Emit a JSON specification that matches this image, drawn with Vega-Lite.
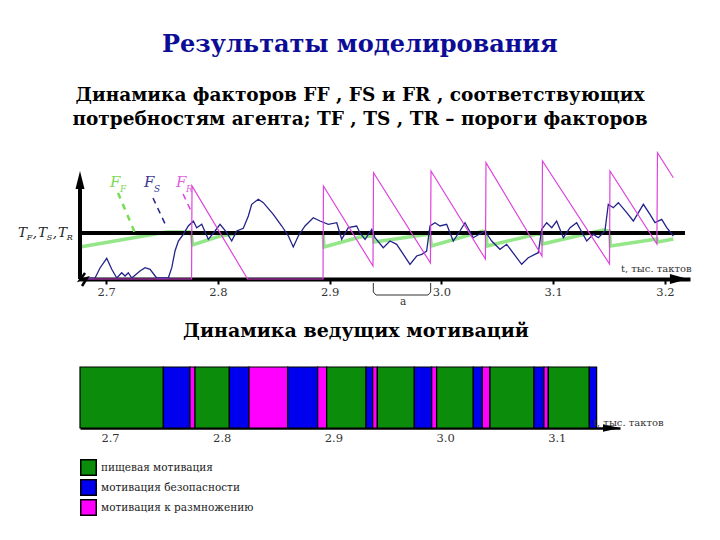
{
  "$schema": "https://vega.github.io/schema/vega-lite/v6.json",
  "padding": {"left": 18, "top": 32, "right": 10, "bottom": 5},
  "background": "white",
  "title": {"text": "Результаты моделирования", "font": "DejaVu Serif", "fontSize": 24, "fontWeight": "bold", "color": "#0c0c96", "anchor": "middle", "offset": 29, "dx": 5},
  "spacing": 14,
  "resolve": {"scale": {"color": "independent", "x": "independent", "y": "independent"}},
  "config": {"view": {"stroke": null}},
  "datasets": {
    "ff": [
      {"t": 2.6767, "v": 32}, {"t": 2.7543, "v": 47}, {"t": 2.7760, "v": 47}, {"t": 2.7774, "v": 34}, {"t": 2.8020, "v": 43}, {"t": 2.8199, "v": 46}, {"t": 2.8941, "v": 46}, {"t": 2.8950, "v": 32}, {"t": 2.9272, "v": 42}, {"t": 2.9388, "v": 44}, {"t": 2.9397, "v": 37}, {"t": 2.9898, "v": 45}, {"t": 2.9911, "v": 33}, {"t": 3.0372, "v": 48}, {"t": 3.0399, "v": 47}, {"t": 3.0408, "v": 33}, {"t": 3.0897, "v": 46}, {"t": 3.0904, "v": 35}, {"t": 3.1445, "v": 49}, {"t": 3.1504, "v": 48}, {"t": 3.1512, "v": 33}, {"t": 3.1928, "v": 40}, {"t": 3.1937, "v": 37}, {"t": 3.2075, "v": 40}
    ],
    "fs": [
      {"t": 2.6767, "v": 0}, {"t": 2.6902, "v": 1}, {"t": 2.6946, "v": 11}, {"t": 2.7006, "v": 20.7}, {"t": 2.7051, "v": 9.7}, {"t": 2.7096, "v": 1}, {"t": 2.7140, "v": 6.3}, {"t": 2.7170, "v": 3}, {"t": 2.7199, "v": 6.3}, {"t": 2.7230, "v": 1}, {"t": 2.7304, "v": 8}, {"t": 2.7349, "v": 11.3}, {"t": 2.7394, "v": 9.7}, {"t": 2.7453, "v": 1}, {"t": 2.7557, "v": 1}, {"t": 2.7588, "v": 11.3}, {"t": 2.7617, "v": 28}, {"t": 2.7647, "v": 38}, {"t": 2.7691, "v": 44.7}, {"t": 2.7736, "v": 53}, {"t": 2.7781, "v": 58}, {"t": 2.7811, "v": 51.3}, {"t": 2.7856, "v": 54.7}, {"t": 2.7915, "v": 39.7}, {"t": 2.7975, "v": 48}, {"t": 2.8020, "v": 54.7}, {"t": 2.8080, "v": 46.3}, {"t": 2.8124, "v": 38}, {"t": 2.8169, "v": 48}, {"t": 2.8228, "v": 50.7}, {"t": 2.8273, "v": 63}, {"t": 2.8303, "v": 74.7}, {"t": 2.8362, "v": 79.7}, {"t": 2.8407, "v": 76.3}, {"t": 2.8496, "v": 64.7}, {"t": 2.8572, "v": 53}, {"t": 2.8631, "v": 43}, {"t": 2.8675, "v": 32}, {"t": 2.8720, "v": 43}, {"t": 2.8780, "v": 53}, {"t": 2.8854, "v": 61.3}, {"t": 2.8914, "v": 58}, {"t": 2.8988, "v": 54.7}, {"t": 2.9064, "v": 56.3}, {"t": 2.9108, "v": 39.7}, {"t": 2.9167, "v": 51.3}, {"t": 2.9242, "v": 53}, {"t": 2.9272, "v": 46}, {"t": 2.9317, "v": 39.7}, {"t": 2.9377, "v": 49.7}, {"t": 2.9406, "v": 41.3}, {"t": 2.9480, "v": 31.3}, {"t": 2.9540, "v": 38}, {"t": 2.9600, "v": 34.7}, {"t": 2.9719, "v": 14.7}, {"t": 2.9779, "v": 23}, {"t": 2.9824, "v": 24.7}, {"t": 2.9868, "v": 28}, {"t": 2.9898, "v": 53}, {"t": 2.9943, "v": 56.3}, {"t": 2.9987, "v": 53}, {"t": 3.0047, "v": 54.7}, {"t": 3.0106, "v": 38}, {"t": 3.0166, "v": 48}, {"t": 3.0211, "v": 56.3}, {"t": 3.0285, "v": 41.3}, {"t": 3.0390, "v": 48}, {"t": 3.0450, "v": 38}, {"t": 3.0524, "v": 29.7}, {"t": 3.0584, "v": 34.7}, {"t": 3.0718, "v": 14.7}, {"t": 3.0777, "v": 21.3}, {"t": 3.0867, "v": 26.3}, {"t": 3.0897, "v": 49.7}, {"t": 3.0942, "v": 56.3}, {"t": 3.0987, "v": 51.3}, {"t": 3.1031, "v": 58}, {"t": 3.1091, "v": 41.3}, {"t": 3.1151, "v": 51.3}, {"t": 3.1210, "v": 56.3}, {"t": 3.1300, "v": 38}, {"t": 3.1359, "v": 44.7}, {"t": 3.1404, "v": 41.3}, {"t": 3.1463, "v": 48}, {"t": 3.1493, "v": 74.7}, {"t": 3.1538, "v": 71.3}, {"t": 3.1583, "v": 76.3}, {"t": 3.1658, "v": 66.3}, {"t": 3.1717, "v": 58}, {"t": 3.1807, "v": 74.7}, {"t": 3.1866, "v": 64.7}, {"t": 3.1911, "v": 56.3}, {"t": 3.1971, "v": 59.7}, {"t": 3.2016, "v": 51.3}, {"t": 3.2075, "v": 43}
    ],
    "fr": [
      {"t": 2.6767, "v": 0}, {"t": 2.7765, "v": 0}, {"t": 2.7769, "v": 93}, {"t": 2.8261, "v": 1}, {"t": 2.8266, "v": 0}, {"t": 2.8941, "v": 0}, {"t": 2.8945, "v": 93}, {"t": 2.9388, "v": 13}, {"t": 2.9393, "v": 106.3}, {"t": 2.9902, "v": 16}, {"t": 2.9907, "v": 108}, {"t": 3.0394, "v": 20}, {"t": 3.0399, "v": 116.3}, {"t": 3.0900, "v": 23}, {"t": 3.0904, "v": 118}, {"t": 3.1504, "v": 15}, {"t": 3.1508, "v": 108}, {"t": 3.1928, "v": 35}, {"t": 3.1933, "v": 126.3}, {"t": 3.2075, "v": 101.3}
    ],
    "motiv": [
      {"a": 2.6731, "b": 2.7477, "m": "пищевая мотивация"},
      {"a": 2.7477, "b": 2.7716, "m": "мотивация безопасности"},
      {"a": 2.7716, "b": 2.7761, "m": "мотивация к размножению"},
      {"a": 2.7761, "b": 2.8068, "m": "пищевая мотивация"},
      {"a": 2.8068, "b": 2.8244, "m": "мотивация безопасности"},
      {"a": 2.8244, "b": 2.8591, "m": "мотивация к размножению"},
      {"a": 2.8591, "b": 2.8859, "m": "мотивация безопасности"},
      {"a": 2.8859, "b": 2.8940, "m": "мотивация к размножению"},
      {"a": 2.8940, "b": 2.9292, "m": "пищевая мотивация"},
      {"a": 2.9292, "b": 2.9352, "m": "мотивация безопасности"},
      {"a": 2.9352, "b": 2.9393, "m": "мотивация к размножению"},
      {"a": 2.9393, "b": 2.9724, "m": "пищевая мотивация"},
      {"a": 2.9724, "b": 2.9880, "m": "мотивация безопасности"},
      {"a": 2.9880, "b": 2.9925, "m": "мотивация к размножению"},
      {"a": 2.9925, "b": 3.0252, "m": "пищевая мотивация"},
      {"a": 3.0252, "b": 3.0333, "m": "мотивация безопасности"},
      {"a": 3.0333, "b": 3.0402, "m": "мотивация к размножению"},
      {"a": 3.0402, "b": 3.0796, "m": "пищевая мотивация"},
      {"a": 3.0796, "b": 3.0885, "m": "мотивация безопасности"},
      {"a": 3.0885, "b": 3.0924, "m": "мотивация к размножению"},
      {"a": 3.0924, "b": 3.1291, "m": "пищевая мотивация"},
      {"a": 3.1291, "b": 3.1357, "m": "мотивация безопасности"}
    ]
  },
  "vconcat": [
    {
      "width": 610,
      "height": 130,
      "title": {"text": ["Динамика факторов FF , FS и FR , соответствующих", "потребностям агента;  TF , TS , TR – пороги факторов"], "font": "DejaVu Serif", "fontSize": 18.5, "fontWeight": "bold", "color": "black", "lineHeight": 24, "anchor": "middle", "offset": 21, "dx": -25},
      "encoding": {
        "x": {"field": "t", "type": "quantitative", "scale": {"domain": [2.6767, 3.2224], "nice": false, "zero": false},
          "axis": {"values": [2.7, 2.8, 2.9, 3.0, 3.1, 3.2], "format": ".1f", "title": null, "grid": false, "domainColor": "black", "domainWidth": 4, "tickColor": "black", "tickWidth": 2, "tickSize": 5, "labelFont": "DejaVu Serif", "labelFontSize": 11.5, "labelColor": "#333", "labelPadding": 2}},
        "y": {"field": "v", "type": "quantitative", "scale": {"domain": [0, 130], "nice": false, "zero": false}, "axis": null}
      },
      "layer": [
        {"data": {"name": "ff"}, "mark": {"type": "line", "color": "#66dd55", "strokeWidth": 3.5, "opacity": 0.7}},
        {"data": {"values": [{"t": 2.6767, "v": 46, "t2": 3.2179}]}, "mark": {"type": "rule", "color": "black", "strokeWidth": 4}, "encoding": {"x2": {"field": "t2"}}},
        {"data": {"values": [{"t": 2.6767, "v": 0, "v2": 92}]}, "mark": {"type": "rule", "color": "black", "strokeWidth": 4}, "encoding": {"y2": {"field": "v2"}}},
        {"data": {"name": "fs"}, "mark": {"type": "line", "color": "#23238a", "strokeWidth": 1.3}},
        {"data": {"name": "fr"}, "mark": {"type": "line", "color": "#dd44dd", "strokeWidth": 1.2}},
        {"data": {"values": [
            {"t": 2.7107, "v": 86}, {"t": 2.7259, "v": 46}]},
          "mark": {"type": "line", "color": "#77dd55", "strokeWidth": 2.5, "strokeDash": [6, 6]}},
        {"data": {"values": [
            {"t": 2.7420, "v": 81}, {"t": 2.7537, "v": 53}]},
          "mark": {"type": "line", "color": "#23238a", "strokeWidth": 1.5, "strokeDash": [6, 5]}},
        {"data": {"values": [
            {"t": 2.7689, "v": 85}, {"t": 2.7769, "v": 66}]},
          "mark": {"type": "line", "color": "#dd44dd", "strokeWidth": 1.5, "strokeDash": [6, 5]}},
        {"data": {"values": [
            {"t": 2.7036, "v": 92, "s": "F", "c": "FF"}, {"t": 2.7340, "v": 92, "s": "F", "c": "FS"}, {"t": 2.7626, "v": 92, "s": "F", "c": "FR"}]},
          "mark": {"type": "text", "align": "left", "baseline": "alphabetic", "font": "DejaVu Serif", "fontStyle": "italic", "fontSize": 15},
          "encoding": {"text": {"field": "s"}, "color": {"field": "c", "type": "nominal", "scale": {"domain": ["FF", "FS", "FR"], "range": ["#7ed957", "#3a3a99", "#dd66dd"]}, "legend": null}}},
        {"data": {"values": [
            {"t": 2.7125, "v": 87, "s": "F", "c": "FF"}, {"t": 2.7429, "v": 87, "s": "S", "c": "FS"}, {"t": 2.7716, "v": 87, "s": "R", "c": "FR"}]},
          "mark": {"type": "text", "align": "left", "baseline": "alphabetic", "font": "DejaVu Serif", "fontStyle": "italic", "fontSize": 9},
          "encoding": {"text": {"field": "s"}, "color": {"field": "c", "type": "nominal", "legend": null}}},
        {"data": {"values": [
            {"t": 2.6213, "v": 42, "s": "T"}, {"t": 2.6392, "v": 42, "s": "T"}, {"t": 2.6571, "v": 42, "s": "T"}, {"t": 2.6345, "v": 42, "s": ","}, {"t": 2.6524, "v": 42, "s": ","}]},
          "mark": {"type": "text", "align": "left", "baseline": "alphabetic", "font": "DejaVu Serif", "fontStyle": "italic", "fontSize": 13.5, "color": "#222"},
          "encoding": {"text": {"field": "s"}}},
        {"data": {"values": [
            {"t": 2.6290, "v": 39, "s": "F"}, {"t": 2.6469, "v": 39, "s": "S"}, {"t": 2.6648, "v": 39, "s": "R"}]},
          "mark": {"type": "text", "align": "left", "baseline": "alphabetic", "font": "DejaVu Serif", "fontStyle": "italic", "fontSize": 8, "color": "#222"},
          "encoding": {"text": {"field": "s"}}},
        {"data": {"values": [{"t": 2.6767, "v": 99}]},
          "mark": {"type": "point", "shape": "M-0.5,1L0,-1L0.5,1Z", "size": 324, "filled": true, "color": "black", "opacity": 1}},
        {"data": {"values": [{"t": 3.2125, "v": 0}]},
          "mark": {"type": "point", "shape": "M-1,-0.55L1,0L-1,0.55Z", "size": 324, "filled": true, "color": "black", "opacity": 1}},
        {"data": {"values": [
            {"t": 2.6812, "v": 6, "o": 1}, {"t": 2.6767, "v": -1, "o": 2}, {"t": 2.6830, "v": 1, "o": 3}, {"t": 2.6785, "v": -7, "o": 4}]},
          "mark": {"type": "line", "color": "black", "strokeWidth": 2.5},
          "encoding": {"order": {"field": "o"}}},
        {"data": {"values": [
            {"t": 2.9391, "v": -4, "o": 1}, {"t": 2.9391, "v": -13, "o": 2}, {"t": 2.9415, "v": -16, "o": 3}, {"t": 2.9880, "v": -16, "o": 4}, {"t": 2.9904, "v": -13, "o": 5}, {"t": 2.9904, "v": -4, "o": 6}]},
          "mark": {"type": "line", "color": "#333", "strokeWidth": 1},
          "encoding": {"order": {"field": "o"}}},
        {"data": {"values": [{"t": 2.9657, "v": -23, "s": "a"}]},
          "mark": {"type": "text", "align": "center", "baseline": "middle", "font": "DejaVu Serif", "fontSize": 10.5, "color": "#333"},
          "encoding": {"text": {"field": "s"}}},
        {"data": {"values": [{"t": 3.1606, "v": 7, "s": "t, тыс. тактов"}]},
          "mark": {"type": "text", "align": "left", "baseline": "alphabetic", "font": "DejaVu Serif", "fontSize": 10, "color": "#333"},
          "encoding": {"text": {"field": "s"}}}
      ]
    },
    {
      "width": 540,
      "height": 61,
      "title": {"text": "Динамика ведущих мотиваций", "font": "DejaVu Serif", "fontSize": 19, "fontWeight": "bold", "color": "black", "anchor": "middle", "offset": 25, "dx": 6},
      "layer": [
        {"data": {"name": "motiv"},
          "mark": {"type": "rect", "stroke": "black", "strokeWidth": 1.2},
          "encoding": {
            "x": {"field": "a", "type": "quantitative", "scale": {"domain": [2.6731, 3.1566], "nice": false, "zero": false},
              "axis": {"values": [2.7, 2.8, 2.9, 3.0, 3.1], "format": ".1f", "title": null, "grid": false, "domainColor": "black", "domainWidth": 2.5, "ticks": false, "labelFont": "DejaVu Serif", "labelFontSize": 11.5, "labelColor": "#333", "labelPadding": 4}},
            "x2": {"field": "b"},
            "color": {"field": "m", "type": "nominal", "scale": {"domain": ["пищевая мотивация", "мотивация безопасности", "мотивация к размножению"], "range": ["#0b8c0b", "#0000ee", "#ff00ff"]},
              "legend": {"orient": "none", "legendX": 0, "legendY": 92, "title": null, "direction": "vertical", "symbolType": "square", "symbolSize": 240, "symbolStrokeColor": "black", "symbolStrokeWidth": 1.5, "symbolOpacity": 1, "labelFont": "DejaVu Serif", "labelFontSize": 10.5, "labelColor": "#222", "rowPadding": -5, "labelOffset": 4, "padding": 0}}
          }},
        {"data": {"values": [{"t": 3.1490, "v": 0}]},
          "mark": {"type": "point", "shape": "M-1,-0.45L1,0L-1,0.45Z", "size": 289, "filled": true, "color": "black", "opacity": 1},
          "encoding": {"x": {"field": "t", "type": "quantitative"}, "y": {"field": "v", "type": "quantitative", "scale": {"domain": [0, 61], "nice": false}, "axis": null}}},
        {"data": {"values": [{"t": 3.1324, "v": 2, "s": "t, тыс. тактов"}]},
          "mark": {"type": "text", "align": "left", "baseline": "alphabetic", "font": "DejaVu Serif", "fontSize": 10, "color": "#333"},
          "encoding": {"x": {"field": "t", "type": "quantitative"}, "y": {"field": "v", "type": "quantitative"}, "text": {"field": "s"}}}
      ]
    }
  ]
}
